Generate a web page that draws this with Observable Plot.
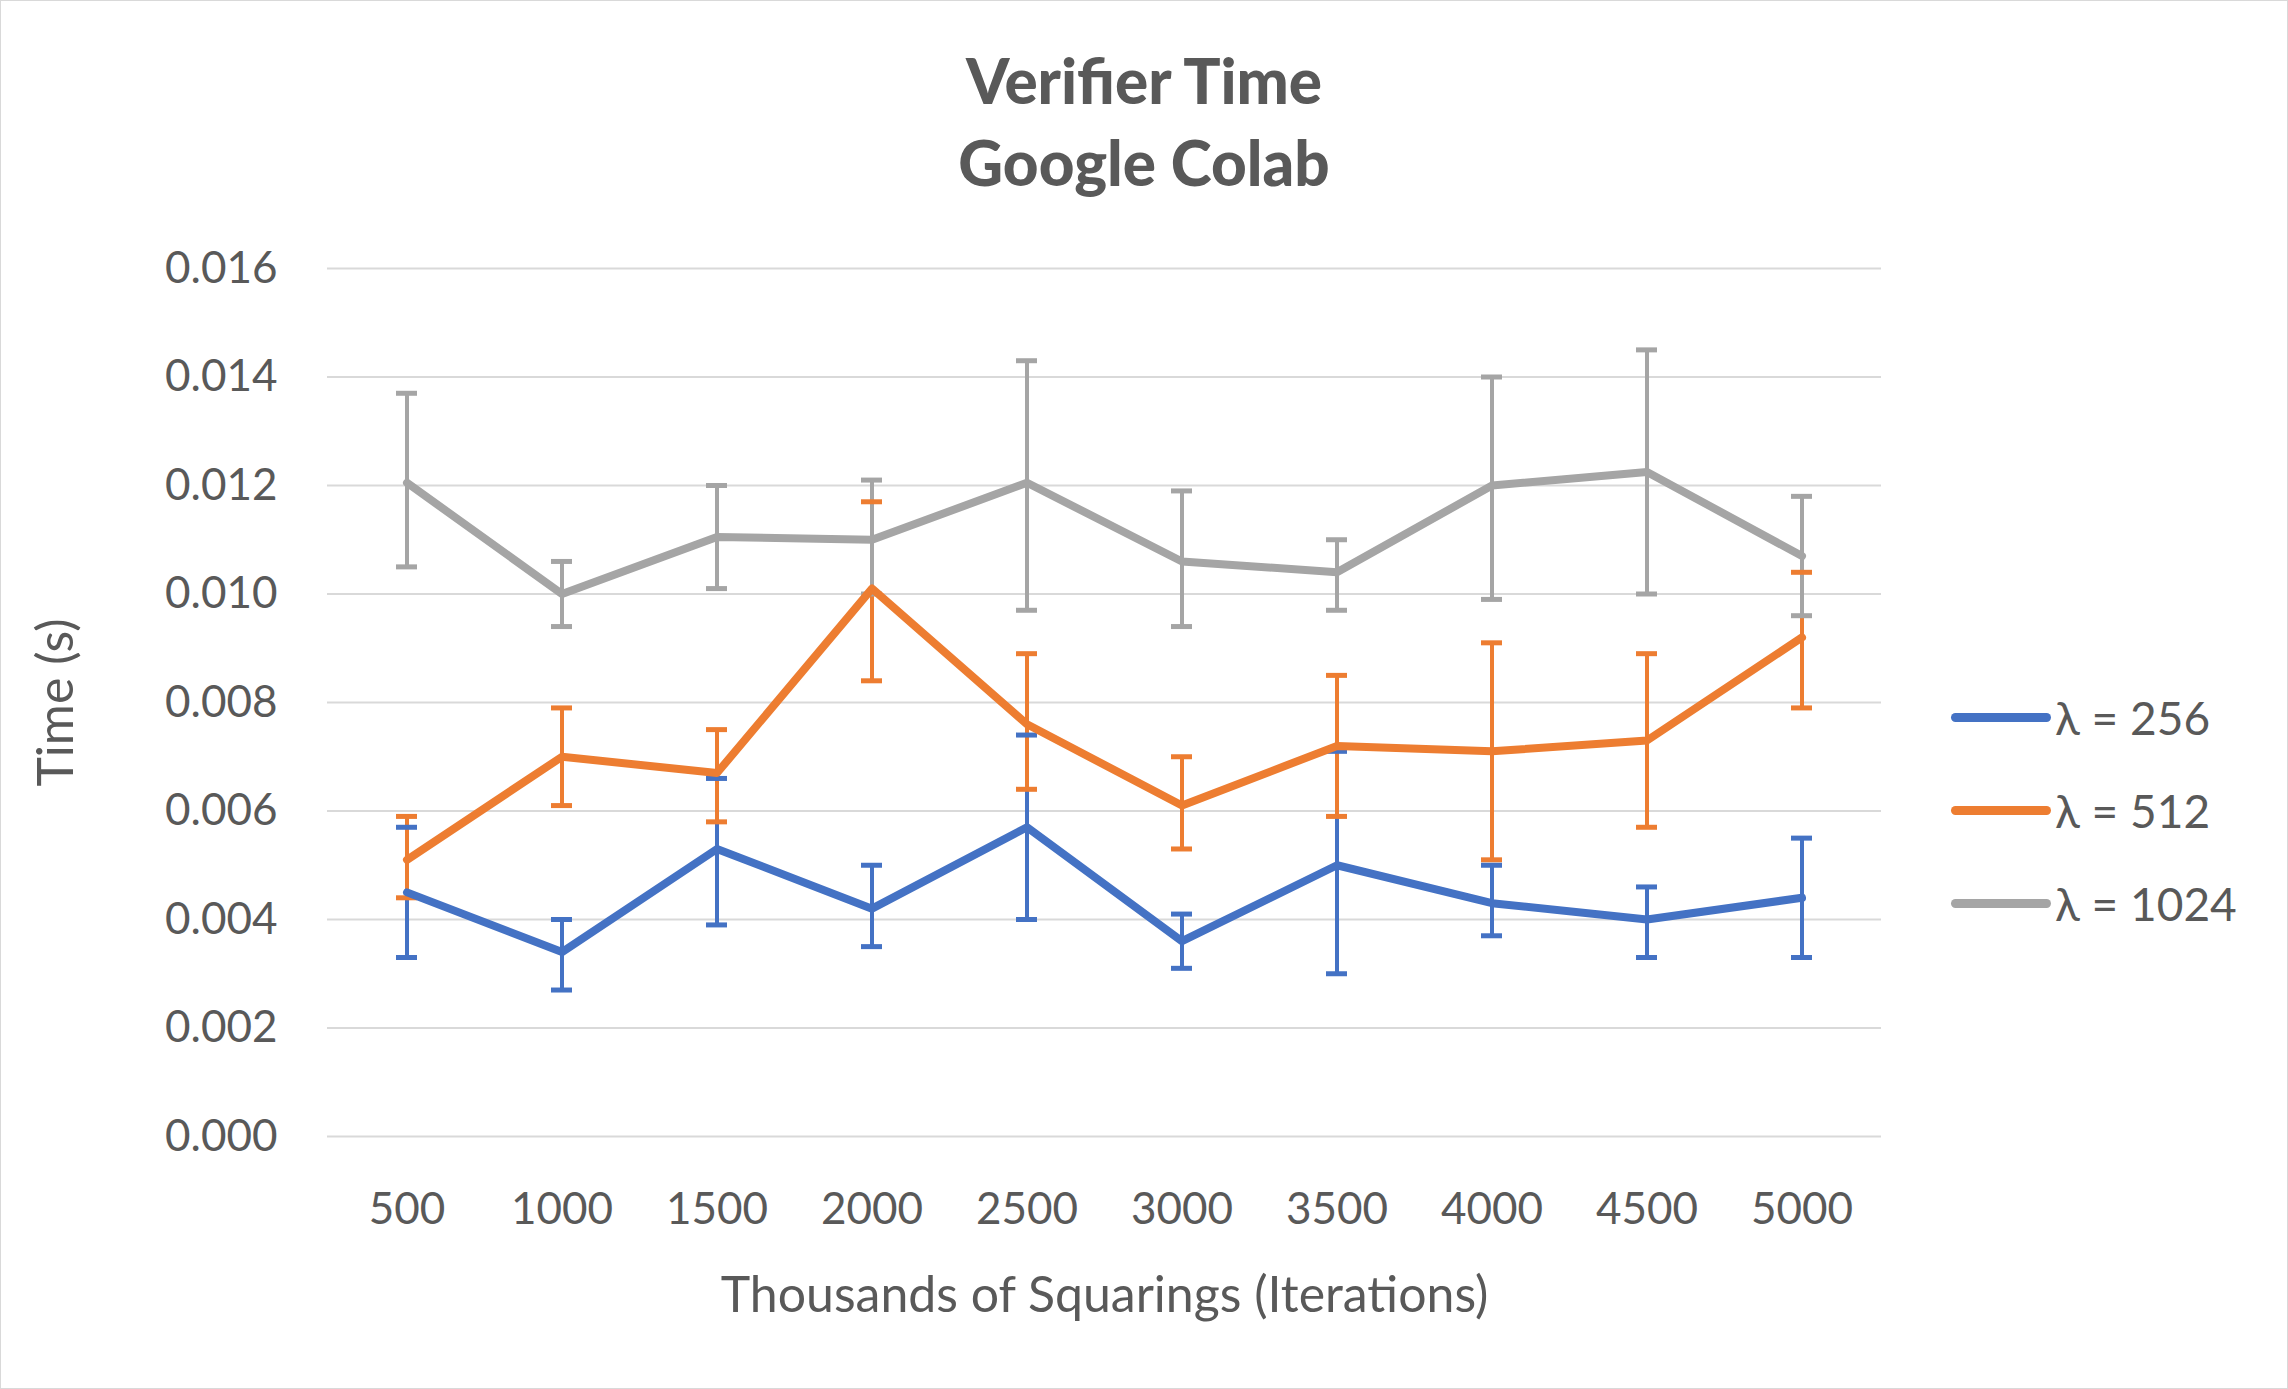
<!DOCTYPE html>
<html><head><meta charset="utf-8">
<script src="https://cdn.jsdelivr.net/npm/d3@7"></script>
<script src="https://cdn.jsdelivr.net/npm/@observablehq/plot@0.6"></script>
<style>
body{margin:0;background:#fff;font-family:Lato,"Open Sans",sans-serif;color:#595959}
#wrap{position:relative;width:2286px;height:1387px;border:1px solid #d9d9d9;overflow:hidden}
#title{height:200px;text-align:center;font-weight:900;font-size:62px;line-height:82px;padding-top:38px;box-sizing:border-box}
#legend{position:absolute;left:1950px;top:670px;font-size:46px}
#legend div{height:93px;display:flex;align-items:center}
#legend span.sw{display:inline-block;width:100px;height:9px;border-radius:5px;margin-right:4px}
</style></head>
<body><div id="wrap"><div id="title">Verifier Time<br>Google Colab</div><div id="chart"></div><div id="legend"></div></div>
<script>
const iterations = ["500","1000","1500","2000","2500","3000","3500","4000","4500","5000"];
const seriesNames = ["λ = 256","λ = 512","λ = 1024"];
const colors = ["#4472c4","#ed7d31","#a5a5a5"];
const mean256 = [0.0045,0.0034,0.0053,0.0042,0.0057,0.0036,0.0050,0.0043,0.0040,0.0044];
const low256  = [0.0033,0.0027,0.0039,0.0035,0.0040,0.0031,0.0030,0.0037,0.0033,0.0033];
const high256 = [0.0057,0.0040,0.0066,0.0050,0.0074,0.0041,0.0071,0.0050,0.0046,0.0055];
const mean512 = [0.0051,0.0070,0.0067,0.0101,0.0076,0.0061,0.0072,0.0071,0.0073,0.0092];
const low512  = [0.0044,0.0061,0.0058,0.0084,0.0064,0.0053,0.0059,0.0051,0.0057,0.0079];
const high512 = [0.0059,0.0079,0.0075,0.0117,0.0089,0.0070,0.0085,0.0091,0.0089,0.0104];
const mean1024 = [0.01205,0.0100,0.01105,0.0110,0.01205,0.0106,0.0104,0.0120,0.01225,0.0107];
const low1024  = [0.0105,0.0094,0.0101,0.0100,0.0097,0.0094,0.0097,0.0099,0.0100,0.0096];
const high1024 = [0.0137,0.0106,0.0120,0.0121,0.0143,0.0119,0.0110,0.0140,0.0145,0.0118];

const sets = [[mean256,low256,high256],[mean512,low512,high512],[mean1024,low1024,high1024]];
const rows = sets.flatMap(([m,l,h],s) => iterations.map((it,i) => ({it, s: seriesNames[s], y: m[i], lo: l[i], hi: h[i]})));
const color = {domain: seriesNames, range: colors};

const chart = Plot.plot({
  width: 2286, height: 1187,
  marginTop: 67, marginBottom: 252, marginLeft: 326, marginRight: 406,
  style: {fontFamily: "Lato, 'Open Sans', sans-serif", fontSize: "44px", color: "#595959", background: "#fff"},
  x: {domain: iterations, padding: 0},
  y: {domain: [0, 0.016], ticks: d3.range(0, 0.0161, 0.002), tickFormat: d3.format(".3f"), tickSize: 0, tickPadding: 50, label: "Time (s)", labelAnchor: "center", labelOffset: 290, labelArrow: "none"},
  color,
  marks: [
    Plot.gridY(d3.range(0, 0.0161, 0.002), {stroke: "#d9d9d9", strokeOpacity: 1, strokeWidth: 2}),
    Plot.axisX({tickSize: 0, tickPadding: 56, label: "Thousands of Squarings (Iterations)", labelAnchor: "center", labelOffset: 175, labelArrow: "none", fontSize: 44}),
    Plot.ruleX(rows, {x: "it", y1: "lo", y2: "hi", stroke: "s", strokeWidth: 4}),
    Plot.tickY(rows, {x: "it", y: "lo", stroke: "s", strokeWidth: 5, insetLeft: 67, insetRight: 67}),
    Plot.tickY(rows, {x: "it", y: "hi", stroke: "s", strokeWidth: 5, insetLeft: 67, insetRight: 67}),
    Plot.lineY(rows, {x: "it", y: "y", z: "s", stroke: "s", strokeWidth: 8, strokeLinejoin: "round", strokeLinecap: "round"})
  ]
});
d3.select(chart).selectAll("text").attr("fill", "#595959");
d3.select(chart).selectAll("[aria-label='x-axis label'] text, [aria-label='y-axis label'] text").style("font-size", "50px");
document.getElementById("chart").append(chart);

const leg = d3.select("#legend");
seriesNames.forEach((n, i) => {
  const d = leg.append("div");
  d.append("span").attr("class", "sw").style("background", colors[i]);
  d.append("span").text(n);
});
</script></body></html>
